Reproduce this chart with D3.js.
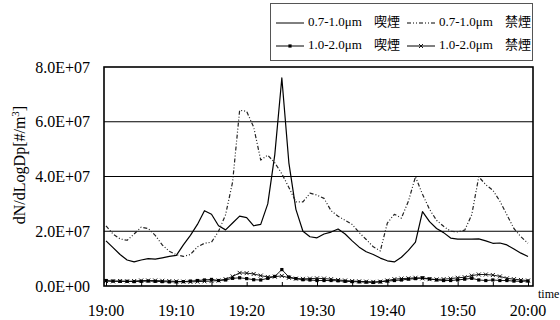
<!DOCTYPE html>
<html>
<head>
<meta charset="utf-8">
<script src="https://cdn.jsdelivr.net/npm/d3@7"></script>
<style>
    body { margin: 0; background: #fff; }
    svg { display: block; }
    text { font-family: "Liberation Serif", "Times New Roman", Tinos, "DejaVu Serif", serif, "Noto Sans CJK JP"; fill: #000; }
</style>
</head>
<body>
<svg id="chart" width="560" height="320"></svg>
<script>
// minutes after 19:00, one reading per minute
let minutes = d3.range(0, 61);

// values in units of 1E+07 #/m3
let smoke07 = [1.65, 1.4, 1.15, 0.95, 0.88, 0.95, 1.0, 0.98, 1.03, 1.08,
    1.12, 1.5, 1.85, 2.25, 2.75, 2.62, 2.2, 2.05, 2.3, 2.55,
    2.5, 2.2, 2.25, 3.0, 4.8, 7.6, 4.5, 2.8, 2.0, 1.8,
    1.76, 1.9, 1.97, 2.08, 1.9, 1.65, 1.42, 1.25, 1.15, 1.02,
    0.92, 0.88, 1.05, 1.3, 1.6, 2.72, 2.35, 2.1, 1.95, 1.75,
    1.71, 1.71, 1.71, 1.72, 1.65, 1.56, 1.57, 1.5, 1.35, 1.2, 1.08];
let nosmoke07 = [2.2, 1.9, 1.72, 1.67, 1.9, 2.15, 2.1, 1.85, 1.5, 1.27,
    1.14, 1.08, 1.15, 1.43, 1.56, 1.6, 2.0, 2.6, 3.8, 6.42,
    6.38, 5.8, 4.6, 4.78, 4.5, 4.1, 3.6, 3.07, 3.07, 3.39,
    3.32, 3.2, 2.75, 2.55, 2.4, 2.25, 1.95, 1.7, 1.43, 1.28,
    2.3, 2.62, 2.48, 3.1, 3.99, 3.35, 2.8, 2.4, 2.18, 2.0,
    1.98, 2.04, 2.6, 3.99, 3.7, 3.5, 3.1, 2.6, 2.1, 1.8, 1.56];
let smoke10 = [0.2, 0.18, 0.17, 0.17, 0.16, 0.17, 0.18, 0.17, 0.16, 0.15,
    0.15, 0.16, 0.18, 0.2, 0.22, 0.24, 0.2, 0.22, 0.28, 0.3,
    0.27, 0.23, 0.22, 0.28, 0.35, 0.6, 0.33, 0.27, 0.23, 0.22,
    0.2, 0.2, 0.2, 0.19, 0.17, 0.16, 0.15, 0.14, 0.13, 0.15,
    0.18, 0.2, 0.22, 0.25, 0.27, 0.3, 0.26, 0.22, 0.2, 0.2,
    0.22, 0.25, 0.28, 0.22, 0.2, 0.22, 0.2, 0.2, 0.18, 0.17, 0.18];
let nosmoke10 = [0.18, 0.17, 0.18, 0.17, 0.18, 0.2, 0.2, 0.2, 0.19, 0.18,
    0.17, 0.16, 0.15, 0.16, 0.17, 0.18, 0.2, 0.25, 0.35, 0.48,
    0.47, 0.44, 0.38, 0.33, 0.34, 0.37, 0.3, 0.27, 0.26, 0.27,
    0.28, 0.27, 0.25, 0.22, 0.2, 0.18, 0.17, 0.16, 0.15, 0.16,
    0.2, 0.25, 0.27, 0.28, 0.3, 0.28, 0.25, 0.24, 0.25, 0.27,
    0.3, 0.32, 0.38, 0.42, 0.42, 0.4, 0.35, 0.28, 0.25, 0.22, 0.2];

let yTicks = [0, 2, 4, 6, 8];
let yTickLabels = ["0.0E+00", "2.0E+07", "4.0E+07", "6.0E+07", "8.0E+07"];
let xTickLabels = ["19:00", "19:10", "19:20", "19:30", "19:40", "19:50", "20:00"];

let series = [
    {name: "0.7-1.0μm", tag: "喫煙", values: smoke07, dash: null, marker: null},
    {name: "0.7-1.0μm", tag: "禁煙", values: nosmoke07, dash: "4,2,1,2,1,2", marker: null},
    {name: "1.0-2.0μm", tag: "喫煙", values: smoke10, dash: null, marker: "square"},
    {name: "1.0-2.0μm", tag: "禁煙", values: nosmoke10, dash: null, marker: "cross"}
];

let frame = {left: 104, right: 533, top: 67, bottom: 286};
let svg = d3.select("#chart");

let x = d3.scaleLinear().domain([0, 60]).range([106, 528]);
let y = d3.scaleLinear().domain([0, 8]).range([frame.bottom, frame.top]);

// gridlines
svg.append("g").selectAll("line").data(yTicks.slice(1, -1)).enter().append("line")
    .attr("x1", frame.left).attr("x2", frame.right)
    .attr("y1", d => y(d)).attr("y2", d => y(d))
    .attr("stroke", "#000").attr("stroke-width", 1.2);

// y labels
svg.append("g").selectAll("text").data(yTicks).enter().append("text")
    .attr("x", 90).attr("y", d => y(d) + 2)
    .attr("text-anchor", "end").attr("dominant-baseline", "middle")
    .attr("font-size", 16)
    .text((d, i) => yTickLabels[i]);

// x axis: small inward ticks every 5 min, labels every 10
svg.append("g").attr("transform", `translate(0, ${frame.bottom})`)
    .call(d3.axisTop(x).tickValues(d3.range(0, 61, 5)).tickSize(4).tickFormat(""))
    .call(g => g.select(".domain").remove())
    .selectAll("line").attr("stroke", "#000").attr("stroke-width", 1);

svg.append("g").selectAll("text").data(d3.range(0, 61, 10)).enter().append("text")
    .attr("x", d => x(d)).attr("y", 316)
    .attr("text-anchor", "middle").attr("font-size", 16)
    .text((d, i) => xTickLabels[i]);

svg.append("text").attr("x", 538).attr("y", 298).attr("font-size", 12).text("time");

// y title
let title = svg.append("text")
    .attr("transform", "translate(25, 165) rotate(-90)")
    .attr("text-anchor", "middle").attr("font-size", 16);
title.append("tspan").text("dN/dLogDp[#/m");
title.append("tspan").attr("dy", -6).attr("font-size", 11).text("3");
title.append("tspan").attr("dy", 6).text("]");

// lines
let line = d3.line().x((d, i) => x(minutes[i])).y(d => y(d));
let plot = svg.append("g");

series.forEach(s => {
    plot.append("path")
        .datum(s.values)
        .attr("d", line)
        .attr("fill", "none")
        .attr("stroke", s.dash ? "#222" : "#000")
        .attr("stroke-width", s.marker ? 0.9 : 1.2)
        .attr("stroke-dasharray", s.dash)
        .attr("stroke-linejoin", "round");
    if (s.marker) {
        drawMarkers(plot, s.values.map((v, i) => [x(minutes[i]), y(v)]), s.marker);
    }
});

function drawMarkers(g, points, type) {
    let m = g.append("g");
    if (type === "square") {
        m.selectAll("rect").data(points).enter().append("rect")
            .attr("x", d => d[0] - 1.6).attr("y", d => d[1] - 1.6)
            .attr("width", 3.2).attr("height", 3.2).attr("fill", "#000");
    } else {
        m.selectAll("path").data(points).enter().append("path")
            .attr("d", d => `M${d[0] - 2},${d[1] - 2}L${d[0] + 2},${d[1] + 2}M${d[0] - 2},${d[1] + 2}L${d[0] + 2},${d[1] - 2}`)
            .attr("stroke", "#000").attr("stroke-width", 0.9);
    }
}

// plot frame
svg.append("rect")
    .attr("x", frame.left).attr("y", frame.top)
    .attr("width", frame.right - frame.left).attr("height", frame.bottom - frame.top)
    .attr("fill", "none").attr("stroke", "#000").attr("stroke-width", 1.6);

// legend
let legend = svg.append("g");
legend.append("rect").attr("x", 270.5).attr("y", 3.5).attr("width", 262).attr("height", 57)
    .attr("fill", "#fff").attr("stroke", "#555").attr("stroke-width", 1);

let legendPos = [[276, 23], [407, 23], [276, 46], [407, 46]];
series.forEach((s, i) => {
    let [lx, ly] = legendPos[i];
    let item = legend.append("g");
    item.append("line").attr("x1", lx).attr("x2", lx + 28).attr("y1", ly).attr("y2", ly)
        .attr("stroke", "#000").attr("stroke-width", 1)
        .attr("stroke-dasharray", s.dash);
    if (s.marker) {
        drawMarkers(item, [[lx + 14, ly]], s.marker);
    }
    item.append("text").attr("x", lx + 32).attr("y", ly).attr("dominant-baseline", "middle")
        .attr("font-size", 13).text(s.name);
    item.append("text").attr("x", lx + 98).attr("y", ly).attr("dominant-baseline", "middle")
        .attr("font-size", 13).text(s.tag);
});
</script>
</body>
</html>
